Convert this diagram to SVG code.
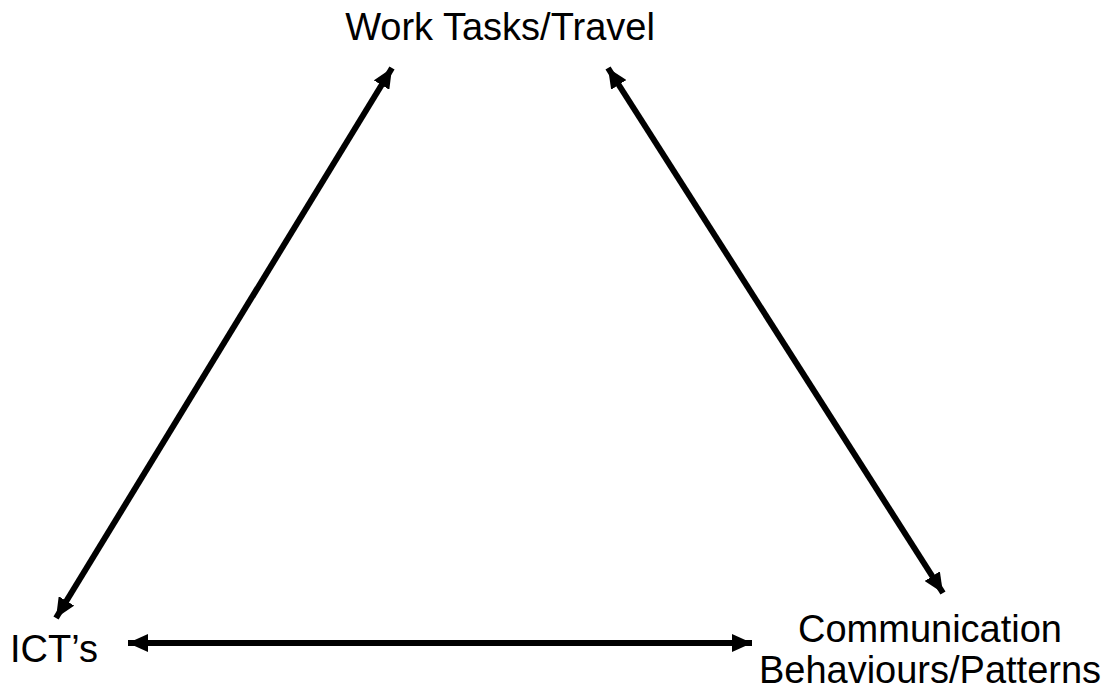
<svg xmlns="http://www.w3.org/2000/svg" width="1117" height="693" viewBox="0 0 1117 693">
<style>
.lbl{font-family:"Liberation Sans",Arial,sans-serif;font-size:38px;fill:#000}
.con{stroke:#000;stroke-width:6;fill:none}
</style>
<defs>
<marker id="ah" viewBox="0 0 20 18" refX="20" refY="9" markerWidth="20" markerHeight="18" markerUnits="userSpaceOnUse" orient="auto-start-reverse">
<path d="M0,0 L20,9 L0,18 Z" fill="#000"/>
</marker>
</defs>
<rect width="1117" height="693" fill="#fff"/>
<g id="node-work"><text class="lbl" x="500" y="40" text-anchor="middle">Work Tasks/Travel</text></g>
<g id="node-ict"><text class="lbl" x="10" y="662">ICT’s</text></g>
<g id="node-comm"><text class="lbl" x="930" y="642" text-anchor="middle">Communication</text><text class="lbl" x="930" y="683" text-anchor="middle">Behaviours/Patterns</text></g>
<g id="connectors">
<line class="con" x1="56" y1="618" x2="392" y2="68" marker-start="url(#ah)" marker-end="url(#ah)"/>
<line class="con" x1="608" y1="68" x2="943" y2="593" marker-start="url(#ah)" marker-end="url(#ah)"/>
<line class="con" x1="128" y1="643" x2="752" y2="643" marker-start="url(#ah)" marker-end="url(#ah)"/>
</g>
</svg>
